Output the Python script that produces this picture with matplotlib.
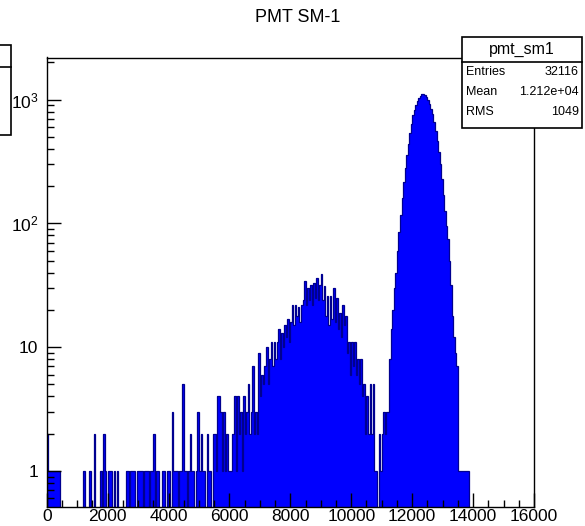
import numpy as np
import matplotlib
matplotlib.use('Agg')
import matplotlib.pyplot as plt
from matplotlib.ticker import MultipleLocator, LogLocator, NullFormatter
from matplotlib.patches import Rectangle
from matplotlib.lines import Line2D

plt.rcParams['font.family'] = ['Liberation Sans', 'DejaVu Sans']

# histogram binning (ADC channels)
bin_width = 50
x_max = 16000

# sparse low-amplitude noise: bin start -> entries
noise_starts = [0, 50, 100, 150, 200, 250, 300, 350, 400,
                1200, 1400, 1550, 1750, 1850, 1900, 2000, 2050, 2100, 2200, 2300,
                2600, 2650, 2750, 2800, 2850, 2950, 3000, 3050, 3100, 3200, 3250,
                3300, 3400, 3450, 3500, 3600, 3650, 3800, 3850, 3950, 4000, 4100,
                4150, 4200, 4250, 4350, 4400, 4450, 4500, 4550, 4650, 4700, 4750,
                4800, 4900, 4950, 5000, 5050, 5100, 5150, 5250, 5300, 5350, 5450,
                5500, 5550, 5600, 5650, 5700, 5750, 5800, 5850, 5900, 5950, 6000, 6050]
noise_counts = [2, 1, 1, 1, 1, 1, 1, 1, 1,
                1, 1, 2, 1, 2, 1, 1, 1, 1, 1, 1,
                1, 1, 1, 1, 1, 1, 1, 1, 1, 1, 1,
                1, 1, 1, 2, 1, 1, 1, 1, 1, 1, 3,
                1, 1, 1, 1, 1, 5, 1, 1, 1, 2, 1,
                1, 1, 3, 1, 2, 1, 1, 2, 1, 1, 2,
                2, 1, 4, 4, 3, 1, 3, 1, 2, 1, 1, 1]

# broad bump, bins from 6100 to 11200
bump_start = 6100
bump_counts = [2, 4, 1, 4, 2, 3, 1, 4, 2, 3, 5, 2, 3, 7, 2, 3, 2, 9, 4, 6,
               5, 7, 10, 5, 8, 11, 7, 11, 8, 11, 14, 8, 13, 10, 15, 12, 17, 11, 16, 22,
               15, 22, 18, 21, 16, 22, 24, 34, 22, 30, 24, 32, 22, 33, 25, 36, 24, 32, 39, 24,
               31, 18, 26, 15, 26, 17, 30, 16, 25, 14, 19, 12, 22, 15, 18, 9, 11, 6, 11, 7,
               11, 6, 8, 5, 8, 4, 5, 2, 4, 2, 5, 2, 5, 1, 1, 0, 2, 1, 2, 3,
               2, 3, 3]

# main peak, bins from 11250 to 13850
peak_start = 11250
peak_counts = [8, 14, 20, 30, 40, 60, 85, 118, 160, 215, 280, 360, 440, 540, 640, 750,
               830, 910, 980, 1040, 1080, 1110, 1120, 1100, 1060, 990, 920, 840, 760, 660,
               560, 460, 380, 300, 230, 170, 125, 95, 75, 50, 32, 18, 12, 9, 7,
               1, 1, 1, 1, 1, 1, 1, 0]

x_ticks = [0, 2000, 4000, 6000, 8000, 10000, 12000, 14000, 16000]
y_ticks = [1, 10, 100, 1000]
y_labels = ['1', '10', r'$\mathregular{10^{2}}$', r'$\mathregular{10^{3}}$']

stats_name = 'pmt_sm1'
stats_rows = [('Entries', '32116'), ('Mean', '1.212e+04'), ('RMS', '1049')]

edges = np.arange(0, x_max + bin_width, bin_width)
counts = np.zeros(len(edges) - 1)
for s, c in zip(noise_starts, noise_counts):
    counts[s // bin_width] = c
i0 = bump_start // bin_width
counts[i0:i0 + len(bump_counts)] = bump_counts
i0 = peak_start // bin_width
counts[i0:i0 + len(peak_counts)] = peak_counts

W, H = 585, 526
def fx(x): return x / W
def fy(y): return 1 - y / H

fig = plt.figure(figsize=(W / 100, H / 100), dpi=100)
ax = fig.add_axes([fx(46.7), fy(506.7), fx(534) - fx(46.7), fy(57.5) - fy(506.7)])

floor = 1e-3
draw = np.where(counts > 0, counts, floor)
ax.stairs(draw, edges, baseline=floor, fill=True, color='#0000ff', lw=0)
ax.stairs(draw, edges, baseline=floor, color='#000090', lw=0.9)

ax.set_yscale('log')
ax.set_xlim(0, x_max)
ax.set_ylim(0.515, 2190)

ax.set_xticks(x_ticks)
ax.set_xticklabels([str(t) for t in x_ticks])
ax.xaxis.set_minor_locator(MultipleLocator(500))
ax.set_yticks(y_ticks)
ax.set_yticklabels(y_labels)
ax.yaxis.set_minor_locator(LogLocator(base=10, subs=np.arange(2, 10)))
ax.yaxis.set_minor_formatter(NullFormatter())
ax.tick_params(which='both', direction='in', top=False, right=False, width=1)
ax.tick_params(which='major', length=10)
ax.tick_params(which='minor', length=5)
ax.tick_params(axis='x', pad=1.5, labelsize=12.5)
ax.tick_params(axis='y', pad=6, labelsize=12.5)
for sp in ax.spines.values():
    sp.set_linewidth(1)

fig.text(fx(298), fy(18), 'PMT SM-1', ha='center', va='center', fontsize=13)

# stats box
bx0, bx1, by0, by1, bsep = 462, 582, 37, 128, 62
fig.add_artist(Rectangle((fx(bx0), fy(by1)), fx(bx1) - fx(bx0), fy(by0) - fy(by1),
                         transform=fig.transFigure, facecolor='white', edgecolor='black', lw=1.2))
fig.add_artist(Line2D([fx(bx0), fx(bx1)], [fy(bsep), fy(bsep)], transform=fig.transFigure,
                      color='black', lw=1.2))
fig.text(fx((bx0 + bx1) / 2), fy(49.5), stats_name, ha='center', va='center', fontsize=11.5)
for k, (lab, val) in enumerate(stats_rows):
    yy = fy(72 + 20 * k)
    fig.text(fx(bx0 + 4), yy, lab, ha='left', va='center', fontsize=9)
    fig.text(fx(bx1 - 3), yy, val, ha='right', va='center', fontsize=9)

# cut-off box at left edge
fig.add_artist(Rectangle((fx(-20), fy(135)), fx(11) - fx(-20), fy(45) - fy(135),
                         transform=fig.transFigure, facecolor='white', edgecolor='black', lw=1.2))
fig.add_artist(Line2D([fx(0), fx(11)], [fy(67), fy(67)], transform=fig.transFigure,
                      color='black', lw=1.2))

fig.savefig('out.png', dpi=100)
